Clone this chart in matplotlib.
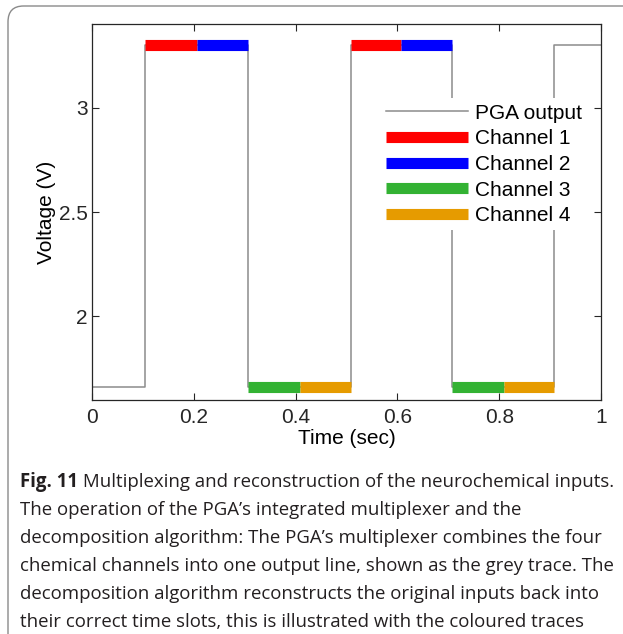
import matplotlib.pyplot as plt
from matplotlib.patches import FancyBboxPatch

# switching instants of the PGA multiplexer (s) and output levels (V)
edges = [0.0, 0.105, 0.206, 0.307, 0.408, 0.508, 0.608, 0.708, 0.809, 0.908, 1.0]
high_v = 3.30
low_v = 1.66
pga_levels = [low_v, high_v, high_v, low_v, low_v, high_v, high_v, low_v, low_v, high_v]

# decomposed channels: (label, colour, slot indices into edges)
channels = ['Channel 1', 'Channel 2', 'Channel 3', 'Channel 4']
ch_colors = ['#ff0000', '#0000ff', '#33b233', '#e69b00']
ch_levels = [high_v, high_v, low_v, low_v]
ch_slots = [[1, 5], [2, 6], [3, 7], [4, 8]]

xticks = [0, 0.2, 0.4, 0.6, 0.8, 1]
xticklabels = ['0', '0.2', '0.4', '0.6', '0.8', '1']
yticks = [2, 2.5, 3]
yticklabels = ['2', '2.5', '3']

caption_bold = 'Fig. 11'
caption_lines = [
    ' Multiplexing and reconstruction of the neurochemical inputs.',
    'The operation of the PGA\u2019s integrated multiplexer and the',
    'decomposition algorithm: The PGA\u2019s multiplexer combines the four',
    'chemical channels into one output line, shown as the grey trace. The',
    'decomposition algorithm reconstructs the original inputs back into',
    'their correct time slots, this is illustrated with the coloured traces',
]

plt.rcParams['font.family'] = ['Liberation Sans', 'DejaVu Sans']

fig = plt.figure(figsize=(6.23, 6.34), dpi=100)
ax = fig.add_axes([0.1477, 0.3691, 0.817, 0.5930])

# grey step trace
xs = []
ys = []
for i, v in enumerate(pga_levels):
    xs += [edges[i], edges[i + 1]]
    ys += [v, v]
ax.plot(xs, ys, color='#8c8c8c', lw=1.1, label='PGA output', zorder=2)

# coloured reconstructed slots
for name, col, lev, slots in zip(channels, ch_colors, ch_levels, ch_slots):
    for k, s in enumerate(slots):
        ax.plot([edges[s], edges[s + 1]], [lev, lev], color=col, lw=8,
                solid_capstyle='butt', label=name if k == 0 else None, zorder=3)

ax.set_xlim(0, 1)
ax.set_ylim(1.6, 3.4)
ax.set_xticks(xticks)
ax.set_xticklabels(xticklabels)
ax.set_yticks(yticks)
ax.set_yticklabels(yticklabels)
ax.tick_params(direction='in', length=5, width=0.8, colors='#262626',
               labelsize=15, top=True, right=True)
ax.tick_params(axis='y', pad=3)
ax.tick_params(axis='x', pad=6)
for sp in ax.spines.values():
    sp.set_color('#262626')
    sp.set_linewidth(0.9)
ax.set_xlabel('Time (sec)', fontsize=15, labelpad=1)
ax.set_ylabel('Voltage (V)', fontsize=15, labelpad=2)

leg = ax.legend(loc='upper left', bbox_to_anchor=(0.547, 0.83), frameon=True,
                fontsize=15, handlelength=3.95, handletextpad=0.34,
                labelspacing=0.32, borderpad=0.25)
leg.get_frame().set_edgecolor('none')
leg.get_frame().set_facecolor('white')
leg.get_frame().set_alpha(1)

# panel border with rounded corner
fig.patches.append(FancyBboxPatch((8 / 623, -0.2), 1.2, 1.2 - 6 / 634,
                                  boxstyle='round,pad=0,rounding_size=0.025',
                                  transform=fig.transFigure, fill=False,
                                  edgecolor='#8a8a8a', lw=1.0, clip_on=False))

# caption
cap_font = dict(family=['Open Sans', 'DejaVu Sans'], fontsize=13.4, color='#231f20',
                va='baseline', ha='left')
x0 = 20 / 623
y0 = 1 - 487 / 634
dy = 28 / 634
tb = fig.text(x0, y0, caption_bold, fontweight='bold', **cap_font)
fig.canvas.draw()
bb = tb.get_window_extent(renderer=fig.canvas.get_renderer())
fig.text(bb.x1 / fig.bbox.width, y0, caption_lines[0], **cap_font)
for i, line in enumerate(caption_lines[1:]):
    fig.text(x0, y0 - (i + 1) * dy, line, **cap_font)

fig.savefig('out.png', dpi=100)
